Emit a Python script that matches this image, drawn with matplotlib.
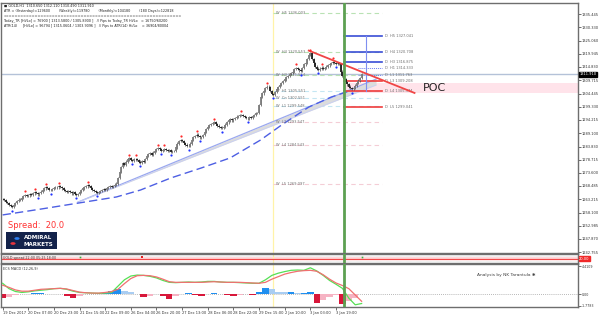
import numpy as np
import matplotlib.pyplot as plt
from matplotlib.transforms import blended_transform_factory
from matplotlib.patches import Rectangle, Circle

# --- data (GOLD H1) ---
closes = [
    1263.5, 1263.0, 1262.2, 1261.8, 1261.0, 1260.6, 1260.2, 1261.0, 1261.8, 1262.5, 1263.2, 1263.0, 1263.8, 1264.6, 1265.0, 1264.6,
    1264.8, 1265.3, 1265.0, 1265.6, 1266.0, 1265.7, 1265.2, 1265.8, 1266.3, 1266.8, 1267.5, 1268.0, 1267.6, 1267.0, 1266.8, 1267.3,
    1267.8, 1268.2, 1267.9, 1268.4, 1268.0, 1267.5, 1267.0, 1266.6, 1266.2, 1266.5, 1266.0, 1265.6, 1266.0, 1265.4, 1265.0, 1265.3,
    1266.0, 1266.8, 1267.5, 1268.0, 1268.3, 1268.8, 1268.5, 1267.8, 1267.0, 1266.5, 1266.0, 1265.8, 1266.2, 1266.6, 1267.0, 1267.4,
    1267.0, 1267.6, 1268.0, 1268.4, 1268.0, 1268.6, 1269.0, 1269.4, 1271.5, 1274.0, 1276.0, 1277.5, 1276.8, 1278.0, 1278.8, 1279.2,
    1278.6, 1278.2, 1278.8, 1279.0, 1278.5, 1278.0, 1277.6, 1278.2, 1278.0, 1279.0, 1280.2, 1280.8, 1281.2, 1280.6, 1281.5, 1282.2,
    1282.8, 1283.2, 1282.8, 1282.2, 1282.6, 1283.0, 1282.5, 1282.0, 1282.4, 1281.8, 1282.0, 1282.2, 1283.5, 1285.0, 1286.0, 1286.5,
    1286.0, 1285.2, 1284.6, 1284.2, 1284.0, 1285.0, 1286.4, 1287.5, 1288.0, 1288.5, 1288.0, 1287.4, 1287.6, 1288.4, 1289.5, 1290.6,
    1291.5, 1292.2, 1292.6, 1293.0, 1293.2, 1292.6, 1292.0, 1291.5, 1291.2, 1291.0, 1291.6, 1292.4, 1293.2, 1294.0, 1294.4, 1294.0,
    1294.6, 1295.0, 1295.5, 1295.8, 1296.0, 1296.2, 1295.8, 1295.4, 1295.0, 1294.8, 1295.2, 1295.0, 1295.6, 1296.2, 1296.8, 1297.0,
    1300.0, 1303.0, 1304.5, 1305.5, 1306.5, 1307.2, 1307.0, 1305.5, 1304.2, 1304.0, 1305.0, 1306.4, 1307.0, 1307.8, 1308.6, 1309.4,
    1310.0, 1310.8, 1311.2, 1312.0, 1312.5, 1313.0, 1314.0, 1314.5, 1314.0, 1313.5, 1313.2, 1314.5, 1315.8, 1316.5, 1318.0, 1319.5,
    1320.2, 1318.0, 1316.2, 1315.0, 1314.2, 1313.8, 1314.2, 1314.6, 1314.2, 1314.5, 1315.0, 1315.4, 1316.0, 1316.5, 1316.8, 1316.4,
    1316.0, 1316.5, 1316.0, 1313.0, 1311.2, 1310.0, 1309.0, 1308.0, 1307.2, 1306.6, 1306.2, 1306.8, 1307.6, 1308.6, 1309.5, 1310.6,
    1311.91,
]
current_price = 1311.91

time_labels = ["19 Dec 2017", "20 Dec 07:00", "20 Dec 23:00", "21 Dec 15:00", "22 Dec 09:00",
               "26 Dec 04:00", "26 Dec 20:00", "27 Dec 13:00", "28 Dec 06:00", "28 Dec 22:00",
               "29 Dec 15:00", "2 Jan 10:00", "3 Jan 03:00", "3 Jan 19:00"]
time_label_bars = [0, 16, 32, 48, 64, 80, 96, 112, 128, 144, 160, 176, 192, 208]

price_ticks = [1335.445, 1330.330, 1325.060, 1319.945, 1314.830, 1309.715, 1304.445, 1299.330,
               1294.215, 1289.100, 1283.830, 1278.715, 1273.600, 1268.485, 1263.215, 1258.100,
               1252.985, 1247.870, 1242.755]

# weekly pivots
w_names = ["H5", "H4", "H3", "H1", "Cn", "L1", "L3", "L4", "L5"]
w_levels = [1336.003, 1320.553, 1311.554, 1305.551, 1302.551, 1299.548, 1293.547, 1284.543, 1269.097]
# daily pivots
d_names = ["H5", "H4", "H3", "H1", "L1", "L3", "L4", "L5"]
d_levels = [1327.041, 1320.708, 1316.875, 1314.333, 1311.763, 1309.208, 1305.374, 1299.041]

week_bar = 169   # yellow separator
day_bar = 213    # green separator

# trend lines
red_tl_x = [191, 257]
red_tl_y = [1321.2, 1304.7]
chan_x = [47, 233]
chan_top = [1262.2, 1310.1]
chan_bot = [1262.2, 1307.8]
ma_x = [0, 24, 47, 71, 86, 105, 124, 142, 161, 174, 191, 205, 218]
ma_y = [1257.2, 1259.5, 1261.8, 1264.2, 1266.9, 1271.6, 1275.5, 1279.4, 1286.4, 1292.2, 1299.2, 1303.1, 1305.8]

poc_lo, poc_hi = 1304.7, 1308.6

# MACD (sampled every 4 bars)
macd_x = list(range(0, 225, 4))
macd_main = [1.75, 0.9, 0.45, 0.3, 0.4, 0.55, 0.65, 0.75, 0.9, 0.95, 0.8, 0.5, 0.3, 0.25, 0.2, 0.15,
             0.2, 0.3, 1.3, 2.3, 2.9, 3.05, 3.0, 2.85, 2.6, 2.2, 1.9, 1.85, 1.9, 1.95, 1.9, 1.95,
             2.05, 2.05, 1.95, 1.9, 1.9, 1.85, 1.8, 1.75, 1.75, 2.3, 3.0, 3.35, 3.6, 3.8, 3.85, 3.8,
             4.2, 3.7, 3.0, 2.2, 1.6, 0.95, -0.6, -1.65, -1.45]
macd_signal = [1.45, 1.1, 0.7, 0.5, 0.5, 0.65, 0.8, 0.85, 0.9, 0.95, 0.85, 0.6, 0.35, 0.25, 0.2, 0.2,
               0.3, 0.45, 0.8, 1.7, 2.5, 2.95, 3.0, 2.95, 2.75, 2.4, 2.0, 1.9, 1.9, 1.9, 1.9, 1.9,
               1.95, 2.0, 1.95, 1.9, 1.9, 1.9, 1.85, 1.8, 1.75, 1.9, 2.4, 2.8, 3.2, 3.45, 3.65, 3.75,
               3.8, 3.65, 3.1, 2.4, 1.8, 1.4, 0.9, -0.1, -1.1]
macd_hist = [-0.65, -0.4, -0.15, 0.1, 0.1, 0.15, 0.15, 0.1, 0.1, 0.05, -0.2, -0.5, -0.2, 0.05, 0.1, 0.1,
             0.2, 0.6, 0.8, 0.5, 0.3, 0.1, -0.4, -0.2, 0.1, -0.3, -0.7, -0.2, 0.1, 0.15, -0.1, -0.2,
             0.1, 0.2, 0.05, -0.1, -0.2, -0.1, 0.05, -0.05, 0.3, 1.0, 0.8, 0.45, 0.3, 0.35, 0.2, 0.25,
             0.35, -1.4, -0.9, -0.4, -0.1, -1.6, -1.1, -0.6, 0.1]

spread_value = 20.0
spread_green_bars = [48, 224]
spread_red_bars = [87]

# --- figure ---
W, H = 600, 317
fig = plt.figure(figsize=(W / 100, H / 100), dpi=100)
fig.patch.set_facecolor("white")


def box(x0, y0, x1, y1):
    return [x0 / W, 1 - y1 / H, (x1 - x0) / W, (y1 - y0) / H]


ax = fig.add_axes(box(1, 3, 578, 253))
ax_sp = fig.add_axes(box(1, 254, 578, 263))
ax_m = fig.add_axes(box(1, 264, 578, 307))
XMIN, XMAX = -1, 359
FS = 2.6

for a in (ax, ax_sp, ax_m):
    a.set_xlim(XMIN, XMAX)
    a.set_facecolor("white")
    for s in a.spines.values():
        s.set_color("#6e6e6e")
        s.set_linewidth(1.0)
    a.yaxis.tick_right()
    a.tick_params(axis="y", length=2, width=0.5, pad=0.8, labelsize=FS, colors="#333333")
    a.tick_params(axis="x", length=0, labelbottom=False)
    a.axvline(day_bar, color="#5da052", lw=2.0, zorder=6)
    a.axvline(week_bar, color="#fff3a8", lw=0.9, zorder=1)

# --- main price panel ---
ax.set_ylim(1242.38, 1339.73)
ax.set_yticks(price_ticks)
ax.set_yticklabels([f"{p:.3f}" for p in price_ticks])

c = np.array(closes)
o = np.concatenate([[c[0]], c[:-1]])
n = len(c)
idx = np.arange(n)
hi = np.maximum(o, c) + 0.45
lo = np.minimum(o, c) - 0.45

# current price line and POC band
ax.axhline(current_price, color="#b4c2d8", lw=1.0, zorder=1)
ax.fill_between([day_bar, XMAX], poc_lo, poc_hi, color="#ffe3ea", lw=0, zorder=0.5)
ax.text(262, (poc_lo + poc_hi) / 2, "POC", fontsize=8, color="#222222", va="center", ha="left", zorder=7)

# trend channel + MA
ax.fill_between(chan_x, chan_bot, chan_top, color="#dcdcdc", lw=0, zorder=1.5)
ax.plot(chan_x, chan_top, color="#9aa8f0", lw=0.9, zorder=2)
ax.plot(chan_x, chan_bot, color="#c8cff5", lw=0.6, zorder=2)
ax.plot(ma_x, ma_y, color="#4d5fe3", lw=1.0, dashes=(6, 3), zorder=2)

# weekly pivots
w_colors = ["#b9e2b4", "#b9e2b4", "#b9e2b4", "#c4e6f2", "#c4e6f2", "#c4e6f2", "#f4cdd6", "#f4cdd6", "#f4cdd6"]
for name, lev, col in zip(w_names, w_levels, w_colors):
    ax.plot([week_bar, 236.5], [lev, lev], color=col, lw=0.8, dashes=(4, 3), zorder=1)
    ax.text(170.5, lev, f"W  {name} {lev:.3f}", fontsize=FS, color="#6f6f6f", va="center", ha="left", zorder=3)

# daily pivots
for name, lev in zip(d_names, d_levels):
    if name in ("H5", "H4", "H3"):
        ax.plot([day_bar, 236.5], [lev, lev], color="#3a4ed6", lw=1.2, zorder=3)
    elif name in ("L3", "L4", "L5"):
        ax.plot([day_bar, 236.5], [lev, lev], color="#f03c3c", lw=1.2, zorder=3)
    else:
        ax.plot([222, 236.5], [lev, lev], color="#6d7ef0", lw=0.7, ls=(0, (1, 1)), zorder=3)
    ax.text(238.5, lev, f"D  {name} {lev:.3f}", fontsize=FS, color="#6f6f6f", va="center", ha="left", zorder=3)
ax.plot([227, 227], [d_levels[0], d_levels[6]], color="#7f8ff0", lw=0.8, zorder=3)

# red trend line
ax.plot(red_tl_x, red_tl_y, color="#f04545", lw=1.3, zorder=5)

# candles
ax.vlines(idx, lo, hi, color="#4a4a4a", lw=0.5, zorder=4)
bull = c >= o
ax.vlines(idx[bull], o[bull], c[bull], color="#7d7d7d", lw=1.3, zorder=4)
ax.vlines(idx[~bull], c[~bull], o[~bull], color="#1e1e1e", lw=1.3, zorder=4)

# fractals (first bar of a tied extreme counts)
up = [i for i in range(2, n - 2)
      if hi[i] > hi[i - 1] and hi[i] > hi[i - 2] and hi[i] >= hi[i + 1] and hi[i] >= hi[i + 2]]
dn = [i for i in range(2, n - 2)
      if lo[i] < lo[i - 1] and lo[i] < lo[i - 2] and lo[i] <= lo[i + 1] and lo[i] <= lo[i + 2]]
ax.plot(idx[up], hi[up] + 0.9, "o", ms=1.6, color="#ff2a2a", mew=0, zorder=5)
ax.plot(idx[dn], lo[dn] - 0.9, "o", ms=1.6, color="#2233ff", mew=0, zorder=5)

# current price tag
tr = blended_transform_factory(ax.transAxes, ax.transData)
ax.text(1.002, current_price, f"{current_price:.3f}", transform=tr, fontsize=FS, color="white",
        va="center", ha="left", bbox=dict(boxstyle="square,pad=0.12", fc="black", ec="black"), zorder=8)

# info header
info = [
    "■ GOLD,H1  1310.650 1312.110 1310.490 1311.910",
    "ATR = (Yesterday)=129600        (Weekly)=119780        (Monthly)=104180        (180 Days)=122818",
    "=" * 62,
    "Today_TR [Hi/Lo] = 76900 [ 1313.5800 / 1305.8900 ]   // Pips to Today_TR Hi/Lo   = 16750/60200",
    "ATR(14)     [Hi/Lo] = 96794 [ 1315.0604 / 1303.9096 ]   // Pips to ATR(14) Hi/Lo    = 36904/80004",
]
for k, line in enumerate(info):
    fig.text(4 / W, 1 - (6 + k * 5) / H, line, fontsize=2.4, color="#222222", va="center", ha="left")

# spread label + logo
fig.text(8 / W, 1 - 225 / H, "Spread:  20.0", fontsize=6, color="#ff3333", va="center", ha="left")
fig.patches.append(Rectangle((6 / W, 1 - 249 / H), 51 / W, 17 / H, transform=fig.transFigure,
                             fc="#13224a", ec="none", zorder=5))
fig.patches.append(Circle((17 / W, 1 - 238.5 / H), 2.6 / W, transform=fig.transFigure, fc="#2a7df0", ec="none", zorder=6))
fig.patches.append(Circle((13 / W, 1 - 243.5 / H), 2.6 / W, transform=fig.transFigure, fc="#e8343c", ec="none", zorder=6))
fig.text(24 / W, 1 - 237.5 / H, "ADMIRAL", fontsize=4, color="white", weight="bold", va="center", ha="left", zorder=7)
fig.text(24 / W, 1 - 244 / H, "MARKETS", fontsize=4, color="white", weight="bold", va="center", ha="left", zorder=7)

# --- spread panel ---
ax_sp.set_ylim(0, 40)
ax_sp.axhspan(15, 25, color="#ffd9dc", lw=0, zorder=0.5)
ax_sp.axhline(spread_value, color="#f24a4a", lw=0.9, zorder=2)
ax_sp.axhline(8, color="#cccccc", lw=0.4, ls=(0, (1, 1)), zorder=1)
ax_sp.axhline(32, color="#cccccc", lw=0.4, ls=(0, (1, 1)), zorder=1)
ax_sp.plot(spread_green_bars, [spread_value + 6] * len(spread_green_bars), "s", ms=1.2, color="#3cb043", mew=0)
ax_sp.plot(spread_red_bars, [spread_value + 6] * len(spread_red_bars), "s", ms=1.6, color="#e02020", mew=0)
ax_sp.set_yticks([])
ax_sp.text(0.003, 0.55, "GOLD spread 22:00 05:25 18:00", transform=ax_sp.transAxes, fontsize=2.3,
           color="#333333", va="center", ha="left")
tr_sp = blended_transform_factory(ax_sp.transAxes, ax_sp.transData)
ax_sp.text(1.002, spread_value, "20.00", transform=tr_sp, fontsize=FS, color="white", va="center", ha="left",
           bbox=dict(boxstyle="square,pad=0.1", fc="#f02828", ec="#f02828"), zorder=8)

# --- MACD panel ---
ax_m.set_ylim(-2.0, 4.8)
ax_m.set_yticks([4.4109, 0.0, -1.7783])
ax_m.set_yticklabels(["4.4109", "0.00", "-1.7783"])
ax_m.tick_params(axis="y", labelsize=2.3, pad=0.6)
ax_m.axhline(0, color="#a0a0a0", lw=0.6, ls=(0, (1, 1.5)), zorder=1)
prev = 0.0
hcols = []
for v in macd_hist:
    if v >= 0:
        hcols.append("#1f8ff0" if v >= prev else "#a9cdf2")
    else:
        hcols.append("#d8173a" if v <= prev else "#f6b3c3")
    prev = v
ax_m.bar(macd_x, macd_hist, width=4, color=hcols, lw=0, zorder=2)
ax_m.plot(macd_x, macd_main, color="#55e055", lw=0.9, zorder=3)
ax_m.plot(macd_x, macd_signal, color="#f07070", lw=0.9, zorder=3)
ax_m.text(0.004, 0.93, "ECS MACD (12,26,9)", transform=ax_m.transAxes, fontsize=2.4, color="#333333",
          va="top", ha="left")
ax_m.text(296, 3.1, "Analysis by NK Tarantula \u2731", fontsize=3.2, color="#444444", va="center", ha="left")

ax_m.tick_params(axis="x", length=2, width=0.5, labelbottom=True, labelsize=FS, pad=1.2, colors="#333333")
ax_m.set_xticks(time_label_bars)
ax_m.set_xticklabels(time_labels, ha="left")

fig.savefig("out.png", dpi=100, facecolor="white")
